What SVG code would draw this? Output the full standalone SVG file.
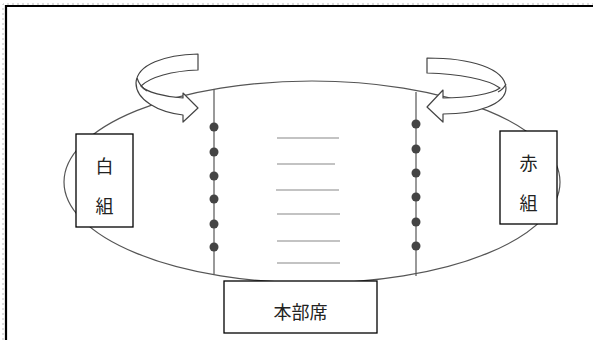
<svg xmlns="http://www.w3.org/2000/svg" width="593" height="340" viewBox="0 0 593 340">
<defs>
<style>
.frame{stroke:#000;stroke-width:2.2;fill:none}
.frame2{stroke:#bbb;stroke-width:1;stroke-dasharray:2 3;fill:none}
.ell{fill:none;stroke:#555;stroke-width:1.2}
.vline{stroke:#555;stroke-width:1.2}
.hline{stroke:#888;stroke-width:1.2}
.dot{fill:#444}
.box{fill:#fff;stroke:#000;stroke-width:1.3}
.arrow{fill:#fff;stroke:#444;stroke-width:1.2;stroke-linejoin:round}
.arrowln{fill:none;stroke:#444;stroke-width:1.2}
.lbl{font-family:"Noto Sans CJK JP","Noto Sans CJK SC",sans-serif;font-size:18px;fill:#222;text-anchor:middle;dominant-baseline:central}
</style>
</defs>
<rect width="593" height="340" fill="#fff"/>
<g id="frame">
<path class="frame2" d="M3,340 V4 H593"/>
<path class="frame" d="M6,340 V6 H593"/>
</g>
<g id="field">
<ellipse class="ell" cx="312" cy="182" rx="248" ry="101"/>
<line class="vline" x1="214" y1="89" x2="214" y2="274"/>
<line class="vline" x1="416" y1="92" x2="416" y2="276"/>
<g class="hlines">
<line class="hline" x1="277" y1="138" x2="339" y2="138"/>
<line class="hline" x1="277" y1="164" x2="335" y2="164"/>
<line class="hline" x1="276" y1="190" x2="339" y2="190"/>
<line class="hline" x1="277" y1="214" x2="340" y2="214"/>
<line class="hline" x1="277" y1="241" x2="340" y2="241"/>
<line class="hline" x1="277" y1="263" x2="340" y2="263"/>
</g>
<g id="dots-left">
<circle class="dot" cx="214" cy="127" r="4.5"/>
<circle class="dot" cx="214" cy="152" r="4.5"/>
<circle class="dot" cx="214" cy="176" r="4.5"/>
<circle class="dot" cx="214" cy="199" r="4.5"/>
<circle class="dot" cx="214" cy="224" r="4.5"/>
<circle class="dot" cx="214" cy="247" r="4.5"/>
</g>
<g id="dots-right">
<circle class="dot" cx="416" cy="124" r="4.5"/>
<circle class="dot" cx="416" cy="149" r="4.5"/>
<circle class="dot" cx="416" cy="173" r="4.5"/>
<circle class="dot" cx="416" cy="197" r="4.5"/>
<circle class="dot" cx="416" cy="222" r="4.5"/>
<circle class="dot" cx="416" cy="246" r="4.5"/>
</g>
</g>
<g id="arrow-left">
<path class="arrow" d="M198,54 L198,70 C172,71 150,77 141,86 C146,92 165,97 183,98 L183,93 L198,108 L183,122 L183,115 C158,112 136,100 136,83 C137,64 165,55 198,54 Z"/>
<path class="arrowln" d="M137,78 C139,84 142,88 147,91"/>
</g>
<g id="arrow-right">
<path class="arrow" d="M427,58 L427,73 C458,74 488,79 500,88 C492,94 468,98 443,98 L443,90 L427,107 L443,122 L443,114 C478,114 506,104 506,88 C505,68 470,58 427,58 Z"/>
<path class="arrowln" d="M506,84 C504,88 502,90 498,92"/>
</g>
<g id="shiro">
<rect class="box" x="76" y="134" width="57" height="93"/>
<text class="lbl" x="104.5" y="165">白</text>
<text class="lbl" x="104.5" y="205">組</text>
</g>
<g id="aka">
<rect class="box" x="500" y="131" width="57" height="93"/>
<text class="lbl" x="528.5" y="162">赤</text>
<text class="lbl" x="528.5" y="202">組</text>
</g>
<g id="honbu">
<rect class="box" x="224" y="281" width="153" height="52"/>
<text class="lbl" x="300.5" y="311">本部席</text>
</g>
</svg>
